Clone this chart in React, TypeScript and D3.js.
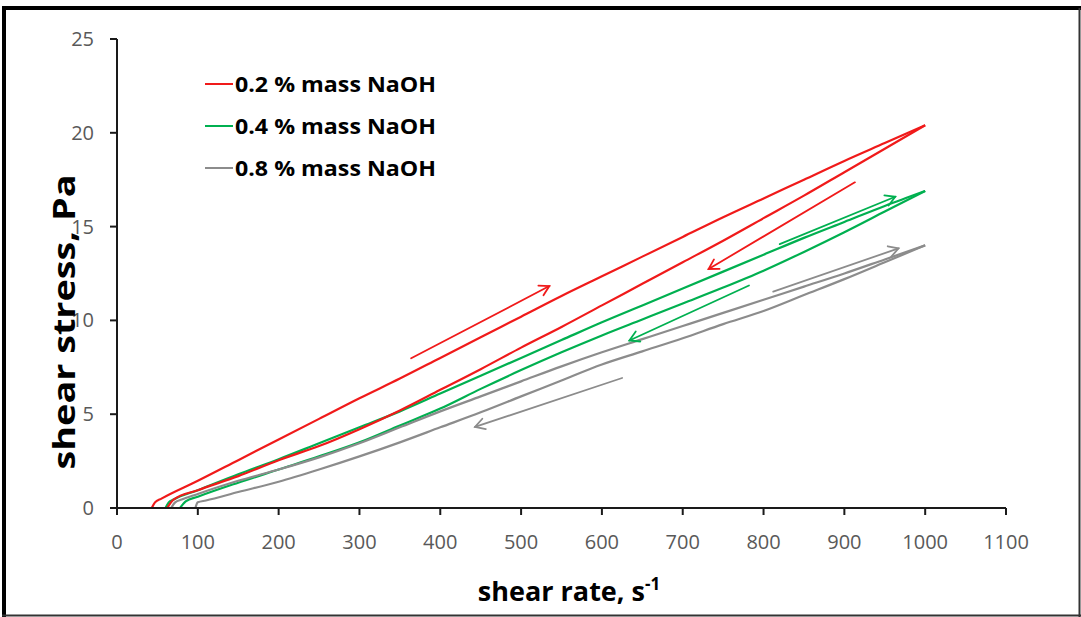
import React from "react";
import * as d3 from "d3";

// ---- data ----
const xTicks = [0, 100, 200, 300, 400, 500, 600, 700, 800, 900, 1000, 1100];
const yTicks = [0, 5, 10, 15, 20, 25];

const seriesNames = ["0.2 % mass NaOH", "0.4 % mass NaOH", "0.8 % mass NaOH"];

// 0.2 % NaOH, ramp up
const redUpShear = [43, 47, 55, 100, 150, 200, 250, 300, 350, 400, 450, 500, 550, 600, 650, 700, 750, 800, 850, 900, 950, 1000];
const redUpStress = [0, 0.3, 0.5, 1.45, 2.55, 3.65, 4.75, 5.85, 6.9, 8.0, 9.1, 10.2, 11.3, 12.35, 13.4, 14.45, 15.5, 16.5, 17.5, 18.5, 19.45, 20.4];
// 0.2 % NaOH, ramp down
const redDownShear = [1000, 950, 900, 850, 800, 750, 700, 650, 600, 550, 500, 450, 400, 350, 300, 250, 200, 150, 100, 70, 62];
const redDownStress = [20.4, 19.15, 17.9, 16.65, 15.45, 14.25, 13.1, 11.95, 10.8, 9.65, 8.55, 7.4, 6.3, 5.2, 4.2, 3.3, 2.55, 1.7, 0.95, 0.45, 0];
// 0.4 % NaOH, ramp up
const greenUpShear = [60, 64, 70, 100, 150, 200, 250, 300, 350, 400, 450, 500, 550, 600, 650, 700, 750, 800, 850, 900, 950, 1000];
const greenUpStress = [0, 0.3, 0.45, 0.95, 1.8, 2.6, 3.45, 4.3, 5.15, 6.1, 7.05, 8.0, 8.95, 9.9, 10.8, 11.7, 12.6, 13.5, 14.4, 15.25, 16.1, 16.9];
// 0.4 % NaOH, ramp down
const greenDownShear = [1000, 950, 900, 850, 800, 750, 700, 650, 600, 550, 500, 450, 400, 350, 300, 250, 200, 150, 100, 85, 78];
const greenDownStress = [16.9, 15.8, 14.7, 13.65, 12.65, 11.75, 10.9, 10.05, 9.2, 8.3, 7.35, 6.35, 5.3, 4.4, 3.5, 2.75, 2.05, 1.35, 0.6, 0.35, 0];
// 0.8 % NaOH, ramp up
const greyUpShear = [67, 72, 80, 100, 150, 200, 250, 300, 350, 400, 450, 500, 550, 600, 650, 700, 750, 800, 850, 900, 950, 1000];
const greyUpStress = [0, 0.3, 0.45, 0.75, 1.45, 2.05, 2.7, 3.45, 4.3, 5.15, 5.95, 6.75, 7.55, 8.3, 9.0, 9.7, 10.4, 11.1, 11.8, 12.5, 13.25, 14.0];
// 0.8 % NaOH, ramp down
const greyDownShear = [1000, 950, 900, 850, 800, 750, 700, 650, 600, 550, 500, 450, 400, 350, 300, 250, 200, 150, 110, 100, 97];
const greyDownStress = [14.0, 13.1, 12.2, 11.35, 10.5, 9.8, 9.05, 8.35, 7.65, 6.8, 5.95, 5.1, 4.3, 3.5, 2.75, 2.05, 1.4, 0.85, 0.4, 0.3, 0];

// direction arrows (data coordinates: [shear, stress])
const arrowStart: [number, number][] = [[364, 7.98], [913, 17.36], [820, 14.07], [782, 11.86], [812, 11.53], [625, 6.93]];
const arrowEnd: [number, number][] = [[535, 11.83], [732, 12.74], [963, 16.59], [634, 8.93], [967, 13.84], [443, 4.32]];

const RED = "#f01a1a";
const GREEN = "#00b050";
const GREY = "#8c8c8c";
const seriesColors = [RED, GREEN, GREY];
const arrowColors = [RED, RED, GREEN, GREEN, GREY, GREY];

const W = 1081;
const H = 617;

export default function App() {
  const x = d3.scaleLinear().domain([0, 1100]).range([117, 1006]);
  const y = d3.scaleLinear().domain([0, 25]).range([508, 39]);

  const line = d3
    .line<[number, number]>()
    .x((d) => x(d[0]))
    .y((d) => y(d[1]))
    .curve(d3.curveMonotoneX);

  const zip = (a: number[], b: number[]) =>
    a.map((v, i) => [v, b[i]] as [number, number]).sort((p, q) => p[0] - q[0]);

  const curves = [
    { d: zip(redUpShear, redUpStress), c: RED },
    { d: zip(greenUpShear, greenUpStress), c: GREEN },
    { d: zip(redDownShear, redDownStress), c: RED },
    { d: zip(greenDownShear, greenDownStress), c: GREEN },
    { d: zip(greyUpShear, greyUpStress), c: GREY },
    { d: zip(greyDownShear, greyDownStress), c: GREY },
  ];

  const font = "'Open Sans', 'DejaVu Sans', sans-serif";

  const arrowHead = (s: [number, number], e: [number, number]) => {
    const x1 = x(s[0]), y1 = y(s[1]), x2 = x(e[0]), y2 = y(e[1]);
    const ang = Math.atan2(y2 - y1, x2 - x1);
    const L = 11, spread = Math.PI / 6;
    const a1 = ang + Math.PI - spread, a2 = ang + Math.PI + spread;
    return `M${x2 + L * Math.cos(a1)},${y2 + L * Math.sin(a1)}L${x2},${y2}L${x2 + L * Math.cos(a2)},${y2 + L * Math.sin(a2)}`;
  };

  return (
    <svg width={W} height={H} style={{ position: "absolute", left: 0, top: 0, background: "#fff" }}>
      <rect x={0} y={0} width={W} height={H} fill="#fff" />
      {/* outer frame */}
      <line x1={4} y1={6} x2={4} y2={H} stroke="#000" strokeWidth={4} />
      <line x1={2} y1={8} x2={W} y2={8} stroke="#000" strokeWidth={4} />
      <line x1={1079.5} y1={8} x2={1079.5} y2={H} stroke="#333" strokeWidth={2} />
      <line x1={2} y1={615.5} x2={W} y2={615.5} stroke="#333" strokeWidth={2} />

      {/* curves */}
      {curves.map((c, i) => (
        <path key={i} d={line(c.d) || ""} fill="none" stroke={c.c} strokeWidth={2.2} strokeLinejoin="round" />
      ))}

      {/* axes */}
      <line x1={x(0)} y1={y(0)} x2={x(1100)} y2={y(0)} stroke="#1a1a1a" strokeWidth={2} />
      <line x1={x(0)} y1={y(0)} x2={x(0)} y2={y(25)} stroke="#1a1a1a" strokeWidth={2} />
      {xTicks.map((t) => (
        <g key={"xt" + t}>
          <line x1={x(t)} y1={y(0)} x2={x(t)} y2={y(0) + 7} stroke="#1a1a1a" strokeWidth={2} />
          <text x={x(t)} y={549} textAnchor="middle" fontFamily={font} fontSize={20} fill="#595959">
            {t}
          </text>
        </g>
      ))}
      {yTicks.map((t) => (
        <g key={"yt" + t}>
          <line x1={x(0) - 7} y1={y(t)} x2={x(0)} y2={y(t)} stroke="#1a1a1a" strokeWidth={2} />
          <text x={94} y={y(t) + 7} textAnchor="end" fontFamily={font} fontSize={20} fill="#595959">
            {t}
          </text>
        </g>
      ))}

      {/* arrows */}
      {arrowStart.map((s, i) => (
        <g key={"ar" + i} stroke={arrowColors[i]} strokeWidth={1.8} fill="none" strokeLinecap="round">
          <line x1={x(s[0])} y1={y(s[1])} x2={x(arrowEnd[i][0])} y2={y(arrowEnd[i][1])} />
          <path d={arrowHead(s, arrowEnd[i])} />
        </g>
      ))}

      {/* legend */}
      {seriesNames.map((n, i) => (
        <g key={"lg" + i}>
          <line x1={205} y1={84 + i * 42} x2={233} y2={84 + i * 42} stroke={seriesColors[i]} strokeWidth={2} />
          <text x={235} y={92 + i * 42} fontFamily={font} fontWeight="bold" fontSize={21} fill="#000" textLength={201} lengthAdjust="spacingAndGlyphs">
            {n}
          </text>
        </g>
      ))}

      {/* axis titles */}
      <text x={569} y={601} textAnchor="middle" fontFamily={font} fontWeight="bold" fontSize={27} fill="#000">
        shear rate, s<tspan dy={-11} fontSize={17}>-1</tspan>
      </text>
      <text transform={`translate(75,322) rotate(-90)`} textAnchor="middle" fontFamily={font} fontWeight="bold" fontSize={30} fill="#000" textLength={295} lengthAdjust="spacingAndGlyphs">
        shear stress, Pa
      </text>
    </svg>
  );
}
